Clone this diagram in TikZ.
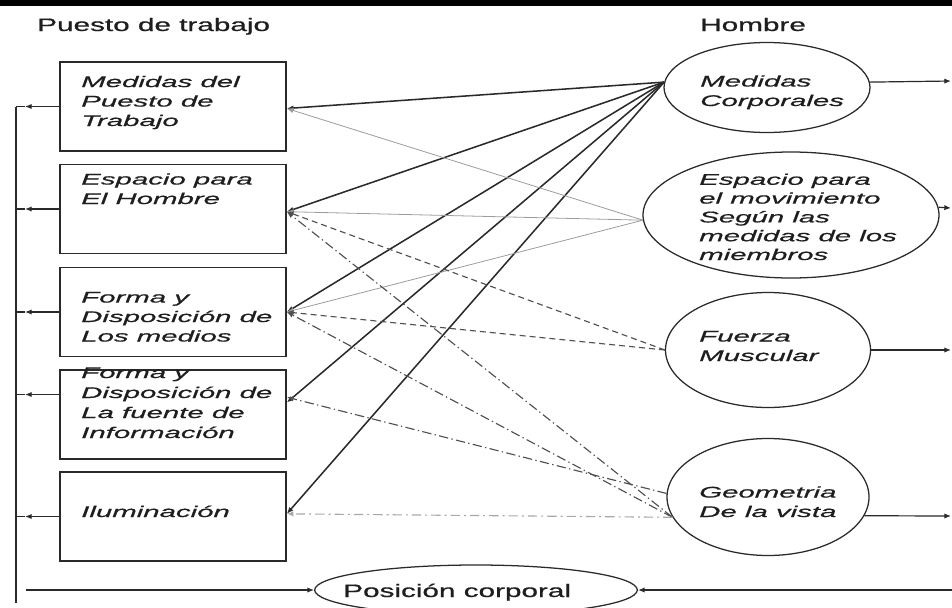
\documentclass[tikz,border=0pt]{standalone}
\usepackage{fontspec}
\setmainfont{Liberation Sans}
\newfontfamily\headfont{Liberation Sans}[FakeStretch=1.65,FakeBold=0.7]
\newfontfamily\itemfont{Liberation Sans}[FakeStretch=1.9,FakeBold=0.7]
\usetikzlibrary{arrows.meta,shapes.geometric}

\definecolor{ink}{HTML}{1E1E1E}
\definecolor{edge}{HTML}{2A2A2A}
\definecolor{faint}{HTML}{9C9C9C}
\definecolor{mid}{HTML}{505050}
\definecolor{soft}{HTML}{A8A8A8}

\tikzset{
  tip/.style={-{Latex[length=5pt,width=4pt]}},
  workbox/.style={draw=edge, line width=1.2pt, rectangle, inner sep=0pt,
    minimum width=169.5pt, minimum height=66.75pt},
  oval/.style={draw=edge, line width=0.95pt, ellipse, inner sep=0pt},
  % multi-line labels are placed by the baseline of their last line
  itemtext/.style={font=\itemfont\itshape\fontsize{11.6}{14.6}\selectfont,
    text=ink, align=left, anchor=base west, inner sep=0pt},
  headtext/.style={font=\headfont\fontsize{13.5}{16}\selectfont,
    text=ink, anchor=base west, inner sep=0pt},
  strong/.style={draw=edge, line width=1.15pt, tip},
  thinlink/.style={draw=faint, line width=0.6pt, tip},
  dashlink/.style={draw=mid, line width=0.85pt, dash pattern=on 4.5pt off 3pt, tip},
  dotdash/.style={draw=mid, line width=0.85pt,
    dash pattern=on 7pt off 2.5pt on 1pt off 2.5pt, tip},
  lightdotdash/.style={draw=soft, line width=0.85pt,
    dash pattern=on 7pt off 3pt on 1.5pt off 3pt, tip},
  wire/.style={draw=edge, line width=0.9pt},
  buswire/.style={draw=edge, line width=1.3pt},
}

\begin{document}
\begin{tikzpicture}[x=0.75pt,y=-0.75pt]
\useasboundingbox (0,0) rectangle (952,607);
\clip (0,0) rectangle (952,607);

% top rule
\fill[black] (0,0) rectangle (952,6);

% column headings
\node[headtext] (hdwork) at (37,31) {Puesto de trabajo};
\node[headtext] (hdman) at (700,31) {Hombre};

% workplace boxes
\node[workbox] (box1) at (173,106.5) {};
\node[workbox] (box2) at (173,209) {};
\node[workbox] (box3) at (173,312) {};
\node[workbox] (box4) at (173,414.5) {};
\node[workbox] (box5) at (173,516.5) {};

\node[itemtext] (tb1) at (81,126) {Medidas del\\Puesto de\\Trabajo};
\node[itemtext] (tb2) at (81,204) {Espacio para\\El Hombre};
\node[itemtext] (tb3) at (81,341.5) {Forma y\\Disposición de\\Los medios};
\node[itemtext, font=\itemfont\itshape\fontsize{11.6}{15}\selectfont]
  (tb4) at (81,438) {Forma y\\Disposición de\\La fuente de\\Información};
\node[itemtext] (tb5) at (81,517) {Iluminación};

% human factors
\node[oval, minimum width=154.5pt, minimum height=67.5pt] (e1) at (767,87.5) {};
\node[oval, minimum width=222pt, minimum height=94.5pt] (e2) at (791,215) {};
\node[oval, minimum width=153.75pt, minimum height=86.25pt] (e3) at (768,350) {};
\node[oval, minimum width=151.5pt, minimum height=87.75pt] (e4) at (768,497) {};
\node[oval, minimum width=242pt, minimum height=37.5pt] (e5) at (476,590) {};

\node[itemtext] (te1) at (700,106) {Medidas\\Corporales};
\node[itemtext, font=\itemfont\itshape\fontsize{11.6}{14.1}\selectfont]
  (te2) at (699,260) {Espacio para\\el movimiento\\Según las\\medidas de los\\miembros};
\node[itemtext] (te3) at (699,361) {Fuerza\\Muscular};
\node[itemtext] (te4) at (699,517) {Geometria\\De la vista};
\node[headtext] (te5) at (343,597) {Posición corporal};

% body measures feed every workplace item
\draw[strong] (e1.177) -- ([yshift=-1.5pt]box1.east);
\draw[strong] (e1.177) -- ([yshift=-2pt]box2.east);
\draw[strong] (e1.177) -- (box3.east);
\draw[strong] (e1.177) -- ([yshift=9pt]box4.east);
\draw[strong] (e1.177) -- ([yshift=2pt]box5.east);

% space for movement
\draw[thinlink] (e2.182) -- ([yshift=-1.5pt]box1.east);
\draw[thinlink] (e2.182) -- ([yshift=-2pt]box2.east);
\draw[thinlink] (e2.182) -- (box3.east);

% muscular strength
\draw[dashlink] (e3.west) -- ([yshift=-2pt]box2.east);
\draw[dashlink] (e3.west) -- (box3.east);

% geometry of vision
\draw[dotdash] (e4.192) -- ([yshift=-2pt]box2.east);
\draw[dotdash] (e4.192) -- (box3.east);
\draw[dotdash] (e4.178) -- ([yshift=13pt]box4.east);
\draw[lightdotdash] (e4.192) -- ([yshift=2pt]box5.east);

% outputs to the right
\coordinate (out1) at (951,81);
\coordinate (out2) at (951,208);
\coordinate (out3) at (951,350);
\coordinate (out4) at (951,516);
\draw[wire, tip] (e1.3) -- (out1);
\draw[wire, tip] (e2.3) -- (out2);
\draw[wire, tip] (e3.east) -- (out3);
\draw[wire, tip] (e4.-11) -- (out4);

% collecting bus on the left
\coordinate (busTop) at (16,107);
\coordinate (busEnd) at (16,603);
\coordinate (tipx) at (25,0);
\draw[buswire] (busTop) -- (busEnd);
\foreach \b/\s in {box1/0pt, box2/0pt, box3/0pt, box4/15pt, box5/0pt}{
  \draw[wire, tip] ([yshift=\s]\b.west) -- ([yshift=\s]\b.west -| tipx);
  \draw[wire] ([yshift=\s]\b.west -| tipx) -- ([yshift=\s]\b.west -| busTop);
}

% body posture line
\coordinate (postureIn) at (26,590);
\coordinate (postureBack) at (952,590);
\draw[wire, tip] (postureIn) -- (e5.west);
\draw[buswire, tip] (postureBack) -- (e5.east);
\end{tikzpicture}
\end{document}
